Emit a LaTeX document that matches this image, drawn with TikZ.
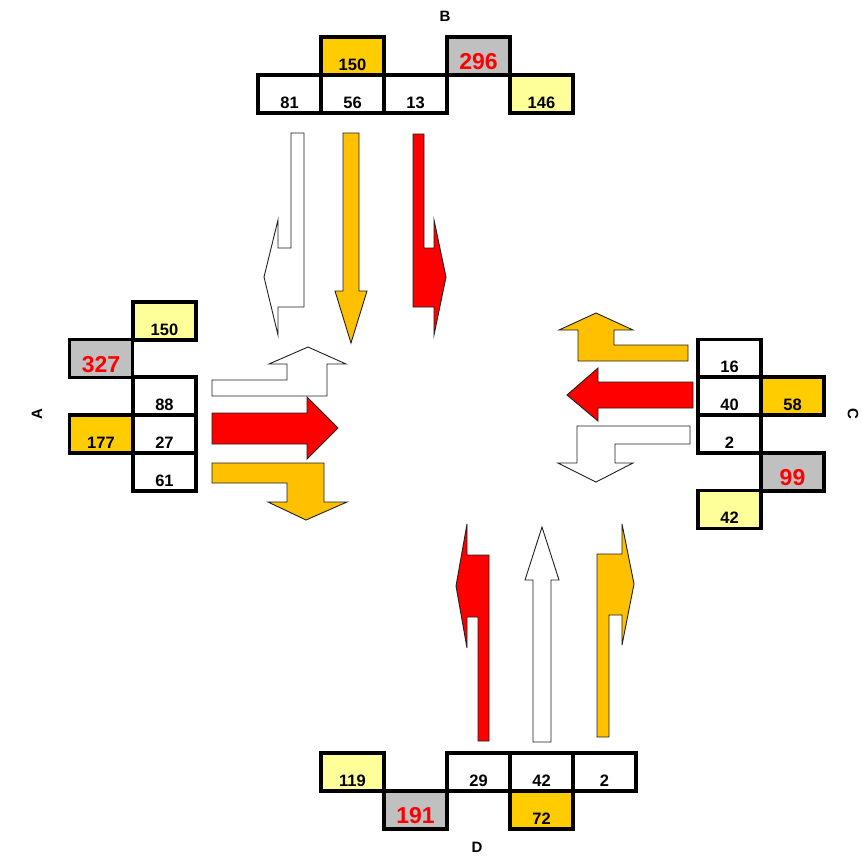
\documentclass[tikz,border=0pt]{standalone}
\usepackage{fontspec}
\setmainfont{Liberation Sans}
\definecolor{cgold}{HTML}{FFC000}
\definecolor{cbox}{HTML}{FFCC00}
\definecolor{cyel}{HTML}{FFFF99}
\definecolor{cgray}{HTML}{C0C0C0}
\definecolor{cred}{HTML}{FF0000}
\definecolor{cline}{HTML}{202020}
\begin{document}
\begin{tikzpicture}[x=1pt,y=-1pt,
  cell/.style={rectangle,draw=black,line width=3.2pt,minimum width=63pt,minimum height=38pt,inner sep=0pt},
  num/.style={font=\fontsize{16.5}{16.5}\selectfont\bfseries,anchor=base,inner sep=0pt,yshift=6.5pt},
  bignum/.style={font=\fontsize{23}{23}\selectfont\bfseries,text=cred,anchor=base,inner sep=0pt,yshift=7pt},
  lbl/.style={font=\fontsize{15}{15}\selectfont\bfseries,inner sep=0pt},
  arr/.style={draw=cline,line width=0.9pt,line join=miter}]
\useasboundingbox (0,0) rectangle (862,855);
\fill[white] (0,0) rectangle (862,855);
% ---------- B ----------
\node[lbl] (lB) at (445,16) {B};
\node[cell,fill=white] (b81) at (289.5,94) {};
\node[cell,fill=white] (b56) at (352.5,94) {};
\node[cell,fill=white] (b13) at (415.5,94) {};
\node[cell,fill=cyel] (b146) at (541.5,94) {};
\node[cell,fill=cbox] (b150) at (352.5,56) {};
\node[cell,fill=cgray] (b296) at (478.5,56) {};
\node[num] (tb81) at (b81.south) {81};
\node[num] (tb56) at (b56.south) {56};
\node[num] (tb13) at (b13.south) {13};
\node[num] (tb146) at (b146.south) {146};
\node[num] (tb150) at (b150.south) {150};
\node[bignum] (tb296) at (b296.south) {296};
% ---------- A ----------
\node[lbl,rotate=90] (lA) at (37,414) {A};
\node[cell,fill=cyel] (a150) at (164.5,321) {};
\node[cell,fill=cgray] (a327) at (101,358.5) {};
\node[cell,fill=white] (a88) at (164.5,396) {};
\node[cell,fill=cbox] (a177) at (101,434) {};
\node[cell,fill=white] (a27) at (164.5,434) {};
\node[cell,fill=white] (a61) at (164.5,472) {};
\node[num] (ta150) at (a150.south) {150};
\node[bignum] (ta327) at (a327.south) {327};
\node[num] (ta88) at (a88.south) {88};
\node[num] (ta177) at (a177.south) {177};
\node[num] (ta27) at (a27.south) {27};
\node[num] (ta61) at (a61.south) {61};
% ---------- C ----------
\node[lbl,rotate=-90] (lC) at (853,414) {C};
\node[cell,fill=white] (c16) at (729.5,358.5) {};
\node[cell,fill=white] (c40) at (729.5,396) {};
\node[cell,fill=cbox] (c58) at (792.5,396) {};
\node[cell,fill=white] (c2) at (729.5,434) {};
\node[cell,fill=cgray] (c99) at (792.5,472) {};
\node[cell,fill=cyel] (c42) at (729.5,509.5) {};
\node[num] (tc16) at (c16.south) {16};
\node[num] (tc40) at (c40.south) {40};
\node[num] (tc58) at (c58.south) {58};
\node[num] (tc2) at (c2.south) {2};
\node[bignum] (tc99) at (c99.south) {99};
\node[num] (tc42) at (c42.south) {42};
% ---------- D ----------
\node[lbl] (lD) at (477,847) {D};
\node[cell,fill=cyel] (d119) at (352.5,772) {};
\node[cell,fill=white] (d29) at (478.5,772) {};
\node[cell,fill=white] (d42) at (541.5,772) {};
\node[cell,fill=white] (d2) at (604.5,772) {};
\node[cell,fill=cgray] (d191) at (415.5,810) {};
\node[cell,fill=cbox] (d72) at (541.5,810) {};
\node[num] (td119) at (d119.south) {119};
\node[num] (td29) at (d29.south) {29};
\node[num] (td42) at (d42.south) {42};
\node[num] (td2) at (d2.south) {2};
\node[bignum] (td191) at (d191.south) {191};
\node[num] (td72) at (d72.south) {72};
% ---------- arrows from B ----------
\draw[arr,fill=white] (291,133) -- (304,133) -- (304,307) -- (278,307) -- (278,335) -- (264,277) -- (278,220) -- (278,248) -- (291,248) -- cycle;
\draw[arr,fill=cgold] (343,133) -- (359,133) -- (359,291) -- (367,291) -- (351,343) -- (335,291) -- (343,291) -- cycle;
\draw[arr,fill=cred] (413,134) -- (424,134) -- (424,248) -- (434,248) -- (434,220) -- (446,277) -- (434,335) -- (434,307) -- (413,307) -- cycle;
% ---------- arrows from A ----------
\draw[arr,fill=white] (212,380) -- (287,380) -- (287,364) -- (269,364) -- (308,347) -- (346,364) -- (327,364) -- (327,396) -- (212,396) -- cycle;
\draw[arr,fill=cred] (212,413) -- (307,413) -- (307,397) -- (338,428) -- (307,459) -- (307,444) -- (212,444) -- cycle;
\draw[arr,fill=cgold] (212,463) -- (324,463) -- (324,502) -- (347,502) -- (306,520) -- (268,502) -- (287,502) -- (287,483) -- (212,483) -- cycle;
% ---------- arrows from C ----------
\draw[arr,fill=cgold] (688,345) -- (614,345) -- (614,330) -- (633,330) -- (596,313) -- (559,330) -- (578,330) -- (578,361) -- (688,361) -- cycle;
\draw[arr,fill=cred] (693,382) -- (598,382) -- (598,368) -- (567,395) -- (598,421) -- (598,408) -- (693,408) -- cycle;
\draw[arr,fill=white] (690,426) -- (577,426) -- (577,463) -- (558,463) -- (596,482) -- (633,463) -- (615,463) -- (615,444) -- (690,444) -- cycle;
% ---------- arrows from D ----------
\draw[arr,fill=cred] (489,741) -- (489,555) -- (467,555) -- (467,524) -- (456,586) -- (467,648) -- (467,617) -- (478,617) -- (478,741) -- cycle;
\draw[arr,fill=white] (533,742) -- (533,580) -- (525,580) -- (542,527) -- (559,580) -- (551,580) -- (551,742) -- cycle;
\draw[arr,fill=cgold] (597,737) -- (597,554) -- (622,554) -- (622,524) -- (634,584) -- (622,645) -- (622,615) -- (609,615) -- (609,737) -- cycle;
\end{tikzpicture}
\end{document}
